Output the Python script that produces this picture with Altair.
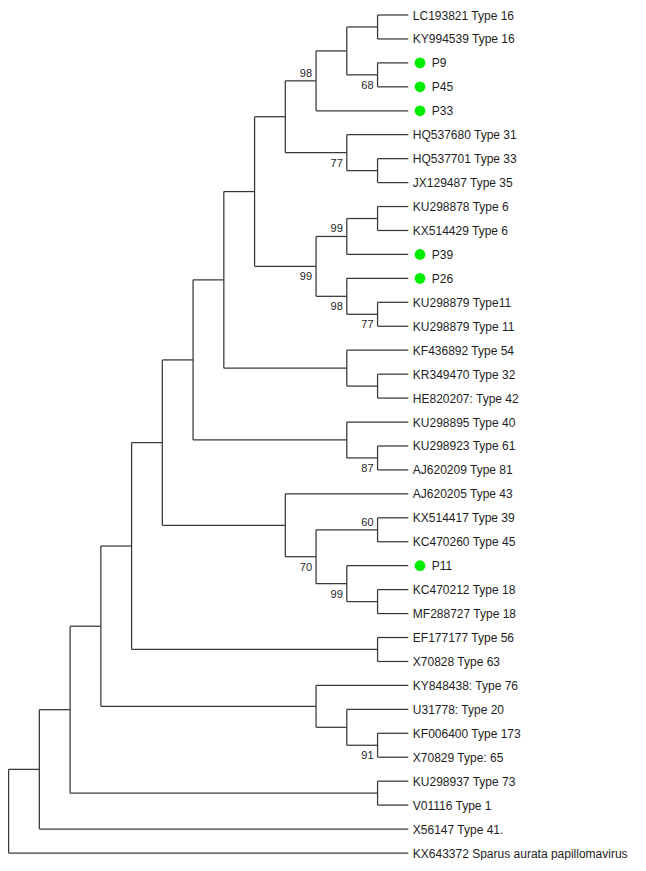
import altair as alt
import pandas as pd

# ---------------- data ----------------
leaf_names = [
    "LC193821 Type 16", "KY994539 Type 16", "P9", "P45", "P33",
    "HQ537680 Type 31", "HQ537701 Type 33", "JX129487 Type 35",
    "KU298878 Type 6", "KX514429 Type 6", "P39", "P26",
    "KU298879 Type11", "KU298879 Type 11", "KF436892 Type 54",
    "KR349470 Type 32", "HE820207: Type 42", "KU298895 Type 40",
    "KU298923 Type 61", "AJ620209 Type 81", "AJ620205 Type 43",
    "KX514417 Type 39", "KC470260 Type 45", "P11", "KC470212 Type 18",
    "MF288727 Type 18", "EF177177 Type 56", "X70828 Type 63",
    "KY848438: Type 76", "U31778: Type 20", "KF006400 Type 173",
    "X70829 Type: 65", "KU298937 Type 73", "V01116 Type 1",
    "X56147 Type 41.", "KX643372 Sparus aurata papillomavirus",
]
marked_leaves = ["P9", "P45", "P33", "P39", "P26", "P11"]

# tree topology (leaf indices, nested clades)
clade_type16 = [[[0, 1], [2, 3]], 4]
clade_type31 = [5, [6, 7]]
clade_type6 = [[[8, 9], 10], [11, [12, 13]]]
clade_upper = [[clade_type16, clade_type31], clade_type6]
clade_type54 = [14, [15, 16]]
clade_type40 = [17, [18, 19]]
clade_type43 = [20, [[21, 22], [23, [24, 25]]]]
clade_type56 = [26, 27]
clade_type76 = [28, [29, [30, 31]]]
clade_type73 = [32, 33]
n220 = [clade_upper, clade_type54]
n188 = [n220, clade_type40]
n157 = [n188, clade_type43]
n126 = [n157, clade_type56]
n94 = [n126, clade_type76]
n63 = [n94, clade_type73]
n32 = [n63, 34]
tree = [n32, 35]

# bootstrap support: clade given by first and last leaf index
boot_first = [2, 0, 5, 8, 11, 12, 8, 18, 21, 23, 21, 30]
boot_last = [3, 4, 7, 10, 13, 13, 13, 19, 22, 25, 25, 31]
boot_value = [68, 98, 77, 99, 98, 77, 99, 87, 60, 99, 70, 91]

# ---------------- cladogram layout ----------------
def height(node):
    if isinstance(node, int):
        return 0
    return 1 + max(height(c) for c in node)

ROOT_H = height(tree)
segments = []
internal = []

def walk(node, first_child):
    if isinstance(node, int):
        return dict(x=ROOT_H, y=node, lo=node, hi=node)
    kids = [walk(c, i == 0) for i, c in enumerate(node)]
    x = ROOT_H - height(node)
    y = (kids[0]["y"] + kids[-1]["y"]) / 2.0
    segments.append(dict(x=x, x2=x, y=kids[0]["y"], y2=kids[-1]["y"]))
    for k in kids:
        segments.append(dict(x=x, x2=k["x"], y=k["y"], y2=k["y"]))
    info = dict(x=x, y=y, lo=kids[0]["lo"], hi=kids[-1]["hi"])
    internal.append(dict(info, side="above" if first_child else "below"))
    return info

walk(tree, False)

seg_df = pd.DataFrame(segments)
leaf_df = pd.DataFrame({
    "name": leaf_names,
    "y": list(range(len(leaf_names))),
    "x": [ROOT_H] * len(leaf_names),
    "marked": [n in marked_leaves for n in leaf_names],
})
node_lookup = {(n["lo"], n["hi"]): n for n in internal}
boot_rows = []
for f, l, v in zip(boot_first, boot_last, boot_value):
    n = node_lookup[(f, l)]
    boot_rows.append(dict(x=n["x"], y=n["y"], label=str(v), side=n["side"]))
boot_df = pd.DataFrame(boot_rows)

# ---------------- chart ----------------
xs = alt.Scale(domain=[0, ROOT_H], range=[0.6, 400.3])
ys = alt.Scale(domain=[0, len(leaf_names) - 1], range=[7, 845])
FONT = "Liberation Sans"
LINE = "#383838"
TXT = "#1e1e1e"

branches = alt.Chart(seg_df).mark_rule(color=LINE, strokeWidth=1.25).encode(
    x=alt.X("x:Q", scale=xs, axis=None),
    x2="x2:Q",
    y=alt.Y("y:Q", scale=ys, axis=None),
    y2="y2:Q",
)

leaf_text = alt.Chart(leaf_df).transform_filter("!datum.marked").mark_text(
    align="left", baseline="middle", dx=4.5, dy=0.5, font=FONT, fontSize=12, color=TXT
).encode(x=alt.X("x:Q", scale=xs), y=alt.Y("y:Q", scale=ys), text="name:N")

marked_text = alt.Chart(leaf_df).transform_filter("datum.marked").mark_text(
    align="left", baseline="middle", dx=23.5, dy=0.5, font=FONT, fontSize=12, color=TXT
).encode(x=alt.X("x:Q", scale=xs), y=alt.Y("y:Q", scale=ys), text="name:N")

dots = alt.Chart(leaf_df).transform_filter("datum.marked").mark_point(
    filled=True, shape="circle", size=115, color="#00ee00", opacity=1, xOffset=11.7
).encode(x=alt.X("x:Q", scale=xs), y=alt.Y("y:Q", scale=ys))

boot_above = alt.Chart(boot_df).transform_filter("datum.side == 'above'").mark_text(
    align="right", baseline="alphabetic", dx=-4, dy=-4, font=FONT, fontSize=11, color=TXT
).encode(x=alt.X("x:Q", scale=xs), y=alt.Y("y:Q", scale=ys), text="label:N")

boot_below = alt.Chart(boot_df).transform_filter("datum.side == 'below'").mark_text(
    align="right", baseline="alphabetic", dx=-4, dy=14, font=FONT, fontSize=11, color=TXT
).encode(x=alt.X("x:Q", scale=xs), y=alt.Y("y:Q", scale=ys), text="label:N")

chart = alt.layer(branches, leaf_text, marked_text, dots, boot_above, boot_below).properties(
    width=625, height=852, autosize="none", padding=0
).configure_view(stroke=None)

chart.save("out.html", embed_options={"renderer": "svg", "actions": False})
